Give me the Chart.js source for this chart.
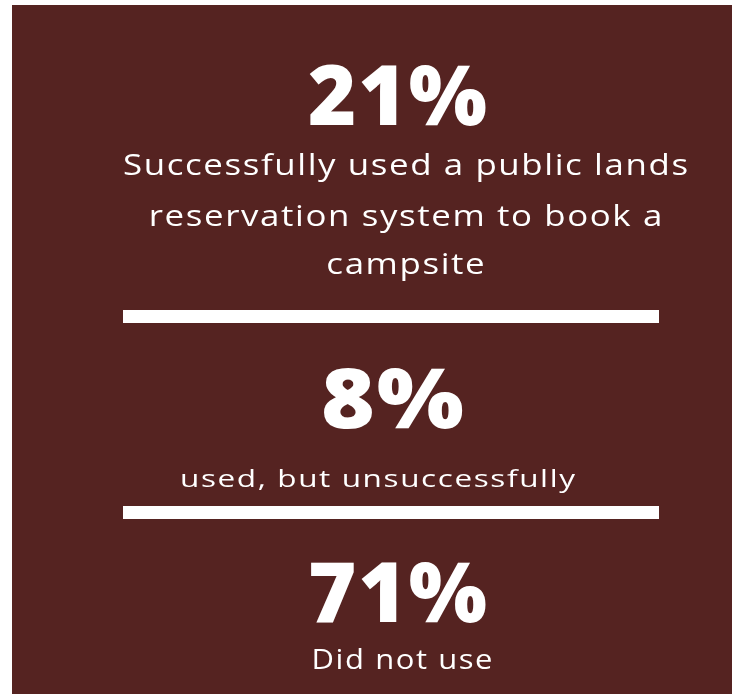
<!DOCTYPE html>
<html><head><meta charset="utf-8">
<script src="https://cdn.jsdelivr.net/npm/chart.js@4"></script>
<style>html,body{margin:0;padding:0;background:#fff}#wrap{width:738px;height:694px}</style>
</head><body><div id="wrap"><canvas id="c" width="738" height="694"></canvas></div>
<script>
// Data
const categories = ["Successfully used a public lands reservation system to book a campsite", "used, but unsuccessfully", "Did not use"];
const values = [21, 8, 71];
const descriptionLines = [
  ["Successfully used a public lands", "reservation system to book a", "campsite"],
  ["used, but unsuccessfully"],
  ["Did not use"]
];

// Layout (styling only)
const BG = '#552321';
const blocks = [
  { numBase: 125, numCx: 397.5, numW: 179, lineBases: [175, 226, 274], lineCx: 405.5, size: 30, fitW: 565 },
  { numBase: 428, numCx: 392.5, numW: 143, lineBases: [487], lineCx: 377.5, size: 24, fitW: 395 },
  { numBase: 622, numCx: 397.5, numW: 179, lineBases: [669], lineCx: 402, size: 27, fitW: 181 }
];
const dividers = [[310, 323], [506, 519]];

// draw text with fixed letter spacing sp (px) and horizontal stretch sx
function drawStretched(ctx, text, cx, base, sx, sp) {
  const w = sx * ctx.measureText(text).width + sp * (text.length - 1);
  const left = cx - w / 2;
  for (let i = 0; i < text.length; i++) {
    const x = left + sx * ctx.measureText(text.slice(0, i)).width + i * sp;
    ctx.save();
    ctx.translate(x, base);
    ctx.scale(sx, 1);
    ctx.fillText(text[i], 0, 0);
    ctx.restore();
  }
}
function fitScale(ctx, text, W, sp) {
  return (W - sp * (text.length - 1)) / ctx.measureText(text).width;
}

const infoPlugin = {
  id: 'info',
  beforeDraw(chart) {
    const ctx = chart.ctx;
    ctx.save();
    ctx.fillStyle = BG;
    ctx.fillRect(12, 5, 720, 689);
    ctx.restore();
  },
  afterDraw(chart) {
    const ctx = chart.ctx;
    const vals = chart.data.datasets[0].data;
    ctx.save();
    ctx.fillStyle = '#ffffff';
    ctx.textAlign = 'left';
    ctx.textBaseline = 'alphabetic';
    blocks.forEach((b, i) => {
      const label = vals[i] + '%';
      ctx.font = '800 84px "Open Sans"';
      const spN = 2;
      drawStretched(ctx, label, b.numCx, b.numBase, fitScale(ctx, label, b.numW, spN), spN);
      ctx.font = '500 ' + b.size + 'px "Open Sans"';
      const spB = 1.6;
      const first = descriptionLines[i][0];
      const sx = fitScale(ctx, first, b.fitW, spB);
      descriptionLines[i].forEach((ln, j) => {
        drawStretched(ctx, ln, b.lineCx, b.lineBases[j], sx, spB);
      });
    });
    dividers.forEach(d => {
      ctx.fillRect(123, d[0], 536, d[1] - d[0]);
    });
    ctx.restore();
  }
};

new Chart(document.getElementById('c'), {
  type: 'bar',
  data: {
    labels: categories,
    datasets: [{ data: values, backgroundColor: 'rgba(0,0,0,0)', borderWidth: 0 }]
  },
  options: {
    responsive: false,
    animation: false,
    events: [],
    layout: { padding: 0 },
    plugins: { legend: { display: false }, tooltip: { enabled: false }, title: { display: false } },
    scales: { x: { display: false }, y: { display: false } }
  },
  plugins: [infoPlugin]
});
</script>
</body></html>
